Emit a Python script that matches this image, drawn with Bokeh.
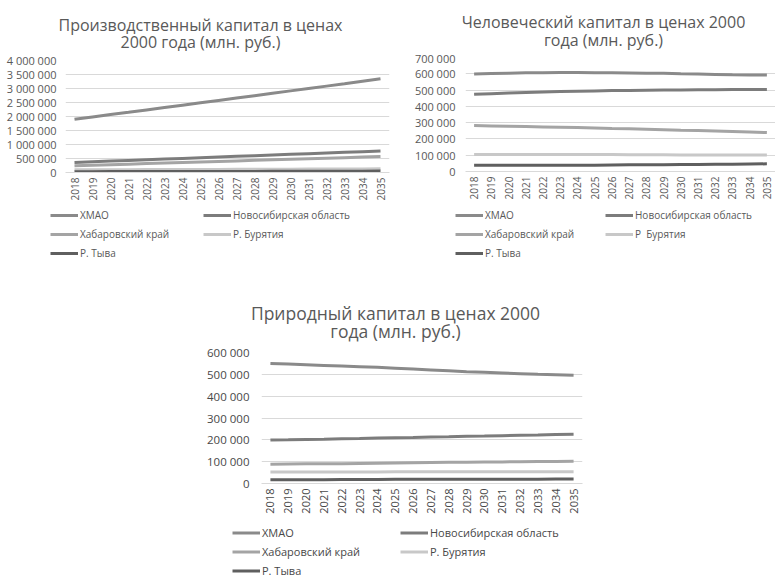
import math
from bokeh.plotting import figure
from bokeh.models import FactorRange, Range1d, FixedTicker, Legend, LegendItem, Spacer
from bokeh.core.properties import value
from bokeh.layouts import column, row
from bokeh.embed import file_html
from bokeh.resources import INLINE

years = ["2018", "2019", "2020", "2021", "2022", "2023", "2024", "2025", "2026",
         "2027", "2028", "2029", "2030", "2031", "2032", "2033", "2034", "2035"]

series_names = ["ХМАО", "Новосибирская область", "Хабаровский край", "Р. Бурятия", "Р. Тыва"]
series_names_hum = ["ХМАО", "Новосибирская область", "Хабаровский край", "Р  Бурятия", "Р. Тыва"]

# Производственный капитал
prod_hmao = [1900000, 1985000, 2070000, 2150000, 2235000, 2320000, 2405000, 2490000, 2575000,
             2660000, 2745000, 2830000, 2915000, 3000000, 3085000, 3170000, 3260000, 3350000]
prod_nsk = [360000, 384000, 408000, 432000, 456000, 480000, 504000, 528000, 552000,
            576000, 600000, 624000, 648000, 672000, 696000, 720000, 745000, 770000]
prod_khab = [240000, 259000, 279000, 298000, 318000, 337000, 356000, 376000, 395000,
             415000, 434000, 453000, 473000, 492000, 512000, 531000, 550000, 570000]
prod_bur = [95000, 97000, 99000, 101000, 103000, 105000, 107000, 109000, 111000,
            113000, 115000, 117000, 119000, 121000, 123000, 125000, 127000, 130000]
prod_tyva = [30000, 31000, 32000, 33000, 34000, 35000, 36000, 37000, 38000,
             39000, 40000, 41000, 42000, 43000, 45000, 46000, 48000, 50000]
prod_ticks = [0, 500000, 1000000, 1500000, 2000000, 2500000, 3000000, 3500000, 4000000]

# Человеческий капитал
hum_hmao = [598000, 601000, 604000, 606000, 607000, 608000, 608000, 607000, 606000,
            605000, 604000, 603000, 600000, 598000, 596000, 594000, 593000, 592000]
hum_nsk = [474000, 478000, 482000, 485000, 488000, 491000, 493000, 495000, 497000,
           498000, 499000, 500000, 501000, 502000, 502000, 503000, 503000, 503000]
hum_khab = [282000, 280000, 278000, 276000, 274000, 272000, 270000, 267000, 264000,
            262000, 259000, 256000, 253000, 251000, 249000, 246000, 243000, 239000]
hum_bur = [104000, 104000, 104000, 104000, 104000, 104000, 104000, 104000, 104000,
           103000, 103000, 103000, 102000, 102000, 102000, 102000, 101000, 101000]
hum_tyva = [38000, 38000, 38000, 38000, 38000, 38000, 38000, 39000, 40000,
            41000, 42000, 42000, 43000, 43000, 44000, 45000, 46000, 47000]
hum_ticks = [0, 100000, 200000, 300000, 400000, 500000, 600000, 700000]

# Природный капитал
nat_hmao = [550000, 547000, 544000, 541000, 538000, 535000, 532000, 528000, 524000,
            520000, 516000, 512000, 509000, 506000, 503000, 500000, 498000, 496000]
nat_nsk = [199000, 200000, 202000, 203000, 205000, 206000, 208000, 210000, 211000,
           213000, 214000, 216000, 217000, 219000, 221000, 222000, 224000, 226000]
nat_khab = [88000, 89000, 90000, 90000, 91000, 92000, 93000, 94000, 95000,
            96000, 97000, 97000, 98000, 99000, 100000, 101000, 101000, 102000]
nat_bur = [53000, 53000, 53000, 53000, 53000, 53000, 53000, 54000, 54000,
           54000, 54000, 54000, 54000, 54000, 54000, 54000, 54000, 54000]
nat_tyva = [17000, 17000, 17000, 17000, 18000, 18000, 18000, 19000, 19000,
            19000, 19000, 20000, 20000, 20000, 20000, 20000, 21000, 21000]
nat_ticks = [0, 100000, 200000, 300000, 400000, 500000, 600000]

colors = ["#8a8a8a", "#7c7c7c", "#a4a4a4", "#c8c8c8", "#5f5f5f"]
FONT = "Open Sans"


def fmt(v):
    return f"{v:,}".replace(",", " ")


def blank(w, h):
    f = figure(width=w, height=h, x_range=Range1d(0, w), y_range=Range1d(h, 0),
               x_axis_location=None, y_axis_location=None, title=None,
               output_backend="svg", toolbar_location=None)
    f.min_border = 0
    f.min_border_left = 0
    f.min_border_right = 0
    f.min_border_top = 0
    f.min_border_bottom = 0
    f.outline_line_color = None
    f.xgrid.visible = False
    f.ygrid.visible = False
    return f


def make_block(title1, title2, names, data, ticks, g):
    W = g["bl"] + g["fw"] + g["br"]
    TXT = g["tc"]
    # title strip
    t = blank(W, g["th"])
    t.text(x=[g["tcx"], g["tcx"]], y=[g["tb1"], g["tb2"]], text=[title1, title2],
           text_align="center", text_baseline="alphabetic", text_font=value(FONT),
           text_font_size=f"{g['tfs']}px", text_color="#595959")

    # chart
    p = figure(x_range=FactorRange(factors=years), y_range=Range1d(0, ticks[-1]),
               frame_width=g["fw"], frame_height=g["fh"], title=None,
               output_backend="svg", toolbar_location=None)
    p.min_border_left = g["bl"]
    p.min_border_top = g["bt"]
    p.min_border_right = g["br"]
    p.min_border_bottom = g["bb"]
    p.outline_line_color = None
    p.xgrid.visible = False
    p.ygrid.grid_line_color = "#d9d9d9"

    ya = p.yaxis[0]
    ya.ticker = FixedTicker(ticks=ticks)
    ya.major_label_overrides = {tk: fmt(tk) for tk in ticks}
    ya.axis_line_color = None
    ya.major_tick_line_color = None
    ya.minor_tick_line_color = None
    ya.major_tick_out = 0
    ya.major_tick_in = 0
    ya.minor_tick_out = 0
    ya.major_label_standoff = g["ys"]
    ya.major_label_text_font = FONT
    ya.major_label_text_font_size = f"{g['yfs']}px"
    ya.major_label_text_color = TXT

    xa = p.xaxis[0]
    xa.axis_line_color = "#d9d9d9"
    xa.major_tick_line_color = None
    xa.major_tick_out = 0
    xa.major_tick_in = 0
    xa.major_label_orientation = math.pi / 2
    xa.major_label_standoff = 5
    xa.major_label_text_font = FONT
    xa.major_label_text_font_size = f"{g['xfs']}px"
    xa.major_label_text_color = TXT

    for vals, col in zip(data, colors):
        p.line(x=years, y=vals, line_color=col, line_width=3)

    # legend strip (proxy lines use the series values, which fall outside this strip's range)
    lg = blank(W, g["lh"])
    items = []
    idx = list(range(len(years)))
    for name, vals, col in zip(names, data, colors):
        r = lg.line(x=idx, y=vals, line_color=col, line_width=3)
        items.append(LegendItem(label=name, renderers=[r]))
    legend = Legend(items=items, location=(g["lx"], g["ly"]), orientation="horizontal", ncols=2,
                    glyph_width=28, glyph_height=g["ih"], label_height=g["ih"],
                    label_width=g["lw"], label_standoff=2, spacing=g["sp"],
                    padding=0, margin=0, border_line_color=None, background_fill_alpha=0,
                    label_text_font=FONT, label_text_font_size=f"{g['lfs']}px",
                    label_text_color=TXT)
    lg.add_layout(legend)
    return column(column(t), p, column(lg), spacing=0)


g1 = dict(bl=65, fw=324, br=1, th=52, bt=8, fh=112, bb=33, lh=65,
          tcx=200, tb1=24, tb2=41, tfs=16, yfs=11, xfs=10, ys=9,
          lx=50, ly=9, ih=16, sp=3, lw=120, lfs=10, tc="#595959")
g2 = dict(bl=75, fw=310, br=0, th=50, bt=7, fh=114, bb=34, lh=65,
          tcx=213, tb1=21, tb2=39, tfs=16, yfs=11, xfs=10, ys=10,
          lx=65, ly=9, ih=16, sp=3, lw=117, lfs=10, tc="#595959")
g3 = dict(bl=71, fw=321, br=8, th=74, bt=8, fh=131, bb=36, lh=59,
          tcx=205, tb1=42, tb2=60, tfs=17.5, yfs=11.5, xfs=11, ys=12,
          lx=42, ly=0, ih=15, sp=4, lw=134, lfs=11, tc="#484848")

b1 = make_block("Производственный капитал в ценах", "2000 года (млн. руб.)", series_names,
                [prod_hmao, prod_nsk, prod_khab, prod_bur, prod_tyva], prod_ticks, g1)
b2 = make_block("Человеческий капитал в ценах 2000", "года (млн. руб.)", series_names_hum,
                [hum_hmao, hum_nsk, hum_khab, hum_bur, hum_tyva], hum_ticks, g2)
b3 = make_block("Природный капитал в ценах 2000", "года (млн. руб.)", series_names,
                [nat_hmao, nat_nsk, nat_khab, nat_bur, nat_tyva], nat_ticks, g3)

layout = column(row(b1, b2, spacing=0),
                row(Spacer(width=190, height=10), b3, spacing=0), spacing=0)

open("out.html", "w").write(file_html(layout, INLINE))
